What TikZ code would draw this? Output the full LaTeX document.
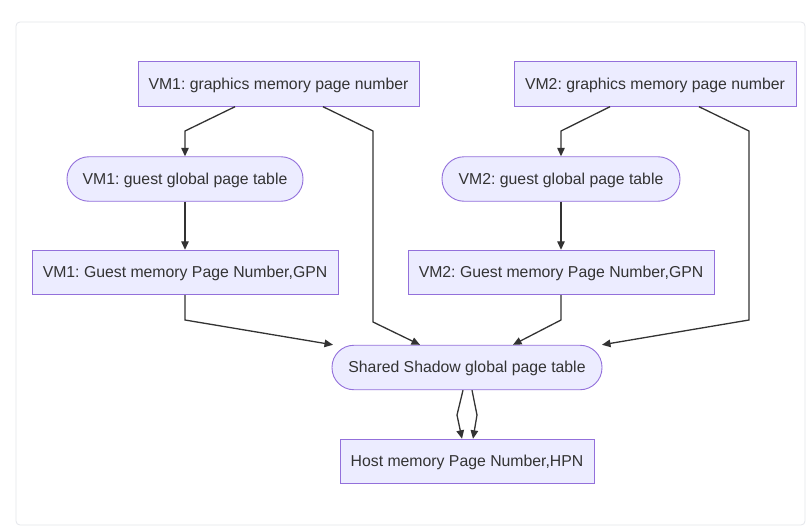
\documentclass[tikz,border=0pt]{standalone}
\usepackage{fontspec}
\setmainfont{Liberation Sans}
\usetikzlibrary{arrows.meta}
\definecolor{nfill}{HTML}{ECECFF}
\definecolor{nline}{HTML}{9370DB}
\definecolor{ecol}{HTML}{333333}
\definecolor{frame}{HTML}{E4E6EB}
\tikzset{
  box/.style={draw=nline, fill=nfill, line width=0.9pt, inner sep=0pt, text=ecol,
    font=\frenchspacing\fontsize{15.8}{18}\selectfont, minimum height=44.5pt,
    text depth=0.5pt},
  pill/.style={box, rounded corners=22pt},
  edge/.style={draw=ecol, line width=1.3pt, -{Triangle[length=8.5pt,width=7.5pt]}}
}
\begin{document}
\begin{tikzpicture}[x=1pt,y=-1pt]
\useasboundingbox (0,0) rectangle (812,527);
\fill[white] (0,0) rectangle (812,527);
\draw[frame, line width=0.8pt, rounded corners=4pt] (16,22) rectangle (805,525);

\node[box, minimum width=281pt] (g1) at (278.5,84) {VM1: graphics memory page number};
\node[box, minimum width=282pt] (g2) at (655,84) {VM2: graphics memory page number};
\node[pill, minimum width=236pt] (t1) at (185,179) {VM1: guest global page table};
\node[pill, minimum width=238pt] (t2) at (561,179) {VM2: guest global page table};
\node[box, minimum width=306pt] (n1) at (185,272.5) {VM1: Guest memory Page Number,GPN};
\node[box, minimum width=306pt] (n2) at (561,272.5) {VM2: Guest memory Page Number,GPN};
\node[pill, minimum width=270pt] (sh) at (467,367.5) {Shared Shadow global page table};
\node[box, minimum width=254pt] (h) at (467,461.5) {Host memory Page Number,HPN};

\draw[edge] ([xshift=-43.5pt]g1.south) -- (185,131) -- (t1.north);
\draw[edge] ([xshift=44.5pt]g1.south) -- (373,131) -- (373,322) -- ([xshift=-47pt]sh.north);
\draw[edge] (t1.south) -- (n1.north);
\draw[edge] (n1.south) -- (185,320) -- ([xshift=-134pt]sh.north);

\draw[edge] ([xshift=-45pt]g2.south) -- (561,131) -- (t2.north);
\draw[edge] ([xshift=44pt]g2.south) -- (749,131) -- (749,320) -- ([xshift=135pt]sh.north);
\draw[edge] (t2.south) -- (n2.north);
\draw[edge] (n2.south) -- (561,320) -- ([xshift=46pt]sh.north);

\draw[edge] ([xshift=-4pt]sh.south) -- (457,415) -- ([xshift=-5pt]h.north);
\draw[edge] ([xshift=5pt]sh.south) -- (477,415) -- ([xshift=6pt]h.north);
\end{tikzpicture}
\end{document}
